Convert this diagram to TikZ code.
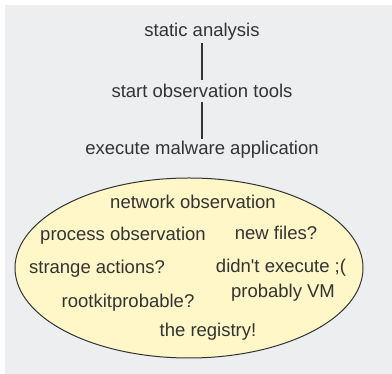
\documentclass[tikz,border=0pt]{standalone}
\usepackage{fontspec}
\newfontfamily\labelfont{Liberation Sans}
\usetikzlibrary{shapes.geometric}
\definecolor{panelgray}{HTML}{EDEEF0}
\definecolor{ellfill}{HTML}{FFF7C8}
\definecolor{inkgray}{HTML}{333333}
\begin{document}
\begin{tikzpicture}[x=1pt,y=1pt,
  lbl/.style={inner sep=1pt,font=\labelfont\fontsize{18.5}{21}\selectfont,text=inkgray},
  link/.style={draw=inkgray,line width=1.3pt}]
\useasboundingbox (0,0) rectangle (392,374);
\fill[panelgray] (5,0) rectangle (392,369);
% steps
\node[lbl] (s1) at (202,342) {static analysis};
\node[lbl] (s2) at (202,283) {start observation tools};
\node[lbl] (s3) at (202,224) {execute malware application};
\draw[link] (202,331) -- (202,294);
\draw[link] (202,272) -- (202,235);
% observation ellipse
\node[ellipse,draw=inkgray,line width=1pt,fill=ellfill,minimum width=348pt,minimum height=180pt,inner sep=0pt] (obs) at (189,106) {};
\node[lbl] (n1) at (193,172) {network observation};
\node[lbl] (n2) at (123,138) {process observation};
\node[lbl] (n3) at (276,141) {new files?};
\node[lbl] (n4) at (97,105) {strange actions?};
\node[lbl] (n5) at (281,106) {didn't execute ;(};
\node[lbl] (n6) at (283,81) {probably VM};
\node[lbl] (n7) at (128,71) {rootkitprobable?};
\node[lbl] (n8) at (208,42) {the registry!};
\end{tikzpicture}
\end{document}
